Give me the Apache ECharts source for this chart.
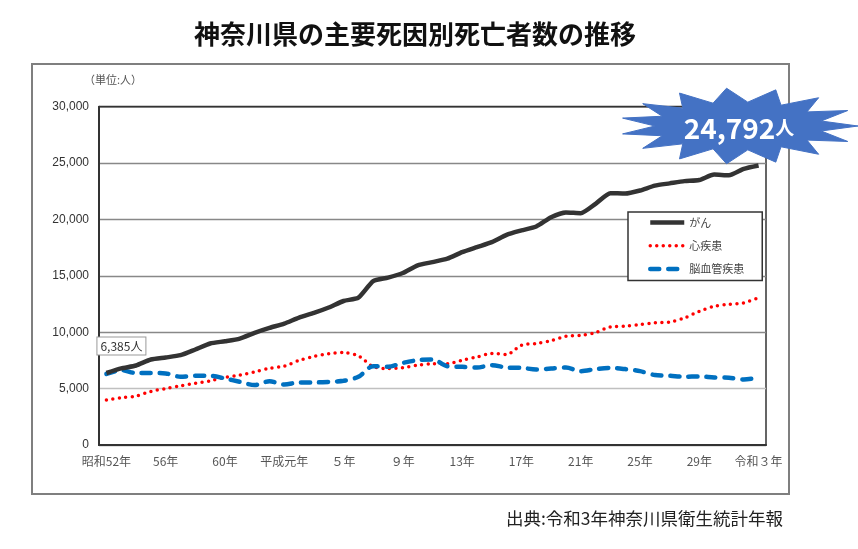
<!DOCTYPE html>
<html>
<head>
<meta charset="utf-8">
<script src="https://cdn.jsdelivr.net/npm/echarts@6/dist/echarts.min.js"></script>
<style>
  html, body { margin: 0; padding: 0; background: #fff; }
  #chart { width: 858px; height: 549px; }
</style>
</head>
<body>
<div id="chart"></div>
<script>
// 年（昭和52年〜令和3年）
const years = [
  '昭和52年', '53年', '54年', '55年', '56年', '57年', '58年', '59年', '60年', '61年', '62年', '63年',
  '平成元年', '２年', '３年', '４年', '５年', '６年', '７年', '８年', '９年', '10年',
  '11年', '12年', '13年', '14年', '15年', '16年', '17年', '18年', '19年', '20年',
  '21年', '22年', '23年', '24年', '25年', '26年', '27年', '28年', '29年', '30年',
  '令和元年', '令和２年', '令和３年'
];

// がん
const ganData = [
  6385, 6790, 7050, 7580, 7760, 7965, 8470, 9000, 9200, 9440,
  9940, 10380, 10770, 11300, 11710, 12190, 12770, 13070, 14540, 14840,
  15250, 15930, 16220, 16520, 17100, 17550, 17990, 18640, 19030, 19380,
  20200, 20620, 20560, 21390, 22330, 22300, 22570, 23000, 23200, 23400,
  23500, 23980, 23920, 24490, 24792
];

// 心疾患
const shinData = [
  3980, 4190, 4340, 4750, 5000, 5250, 5480, 5690, 6000, 6200,
  6490, 6800, 7000, 7500, 7850, 8100, 8200, 7900, 6950, 6780,
  6850, 7080, 7200, 7200, 7520, 7810, 8120, 8030, 8850, 9000,
  9250, 9650, 9720, 9970, 10470, 10530, 10680, 10830, 10910, 11270,
  11860, 12300, 12480, 12600, 13070
];

// 脳血管疾患
const noData = [
  6300, 6640, 6380, 6380, 6350, 6050, 6140, 6140, 5900, 5600,
  5310, 5660, 5370, 5550, 5550, 5600, 5690, 6050, 6990, 6930,
  7280, 7520, 7580, 6990, 6930, 6870, 7080, 6870, 6840, 6700,
  6780, 6870, 6550, 6730, 6840, 6730, 6550, 6200, 6140, 6050,
  6080, 5990, 5960, 5810, 5960
];

const JP = '"Noto Sans CJK JP", "Noto Sans", sans-serif';

// 吹き出し（ギザギザ）の頂点
function starPoints(cx, cy, n, rx1, ry1, rx2, ry2) {
  let pts = [];
  for (let i = 0; i < n * 2; i++) {
    let a = Math.PI * i / n;
    let rx = i % 2 === 0 ? rx1 : rx2;
    let ry = i % 2 === 0 ? ry1 : ry2;
    pts.push([cx + rx * Math.cos(a), cy + ry * Math.sin(a)]);
  }
  return pts;
}

let chart = echarts.init(document.getElementById('chart'));

let option = {
  backgroundColor: '#fff',
  animation: false,
  title: {
    text: '神奈川県の主要死因別死亡者数の推移',
    left: 189,
    top: 16,
    textStyle: { fontFamily: JP, fontSize: 26, fontWeight: 'bold', color: '#111' }
  },
  legend: {
    orient: 'vertical',
    left: 628,
    top: 212,
    padding: [5, 18, 6, 20],
    itemWidth: 34,
    itemHeight: 14,
    itemGap: 12,
    backgroundColor: '#fff',
    borderColor: '#333',
    borderWidth: 1.5,
    borderRadius: 0,
    itemStyle: { opacity: 0 },
    textStyle: { fontFamily: JP, fontSize: 11, color: '#444' },
    data: [
      { name: 'がん', lineStyle: { width: 4.5, color: '#333' } },
      { name: '心疾患', lineStyle: { width: 3.5, color: '#ff0000', type: [0, 6.5], cap: 'round' } },
      { name: '脳血管疾患', lineStyle: { width: 4.5, color: '#0070c0', type: [9, 9], cap: 'round' } }
    ]
  },
  grid: {
    left: 99,
    right: 92,
    top: 106.7,
    bottom: 104,
    show: true,
    borderColor: '#333',
    borderWidth: 1.5
  },
  xAxis: {
    type: 'category',
    boundaryGap: true,
    data: years,
    axisLine: { lineStyle: { color: '#333', width: 2 } },
    axisTick: { interval: 0, length: 5, lineStyle: { color: '#333' } },
    axisLabel: {
      interval: 3,
      margin: 10,
      fontFamily: JP,
      fontSize: 12,
      color: '#555'
    }
  },
  yAxis: {
    type: 'value',
    min: 0,
    max: 30000,
    interval: 5000,
    axisLine: { show: true, lineStyle: { color: '#333', width: 2 } },
    axisTick: { show: false },
    axisLabel: {
      margin: 10,
      fontFamily: 'Liberation Sans, Arial, sans-serif',
      fontSize: 12,
      color: '#333',
      formatter: v => v.toLocaleString('en-US')
    },
    splitLine: {
      lineStyle: {
        color: ['#888', '#c0c0c0', '#888', '#888', '#888', '#888', '#333'],
        width: 1.3
      }
    }
  },
  series: [
    {
      name: 'がん',
      type: 'line',
      data: ganData,
      symbol: 'none',
      smooth: 0.2,
      z: 5,
      itemStyle: { color: '#333' },
      lineStyle: { color: '#333', width: 4.5 },
      markPoint: {
        symbol: 'circle',
        symbolSize: 1,
        itemStyle: { color: 'rgba(0,0,0,0)' },
        label: {
          show: true,
          position: 'inside',
          offset: [15, -27],
          formatter: p => p.value.toLocaleString('en-US') + '人',
          fontFamily: JP,
          fontSize: 12,
          color: '#333',
          backgroundColor: '#fff',
          borderColor: '#999',
          borderWidth: 1,
          padding: [3, 3, 2, 3]
        },
        data: [{ coord: [years[0], ganData[0]], value: ganData[0] }]
      }
    },
    {
      name: '心疾患',
      type: 'line',
      data: shinData,
      symbol: 'none',
      smooth: 0.3,
      z: 3,
      itemStyle: { color: '#ff0000' },
      lineStyle: { color: '#ff0000', width: 3.5, type: [0, 6.5], cap: 'round' }
    },
    {
      name: '脳血管疾患',
      type: 'line',
      data: noData,
      symbol: 'none',
      smooth: 0.3,
      z: 4,
      itemStyle: { color: '#0070c0' },
      lineStyle: { color: '#0070c0', width: 4.5, type: [9, 9], cap: 'round' }
    }
  ],
  graphic: [
    {
      // 外枠
      type: 'rect',
      z: -1,
      shape: { x: 32, y: 64, width: 757, height: 430 },
      style: { fill: 'none', stroke: '#7f7f7f', lineWidth: 2 }
    },
    {
      type: 'text',
      left: 84,
      top: 74,
      style: { text: '（単位:人）', fontFamily: JP, fontSize: 11, fill: '#555' }
    },
    {
      type: 'polygon',
      z: 100,
      shape: { points: starPoints(739, 126, 15, 119, 38, 84, 24) },
      style: { fill: '#4472c4', stroke: '#4472c4', lineWidth: 1 }
    },
    {
      type: 'text',
      z: 101,
      x: 739,
      y: 128,
      style: {
        text: '{a|' + ganData[ganData.length - 1].toLocaleString('en-US') + '}{b|人}',
        align: 'center',
        verticalAlign: 'middle',
        rich: {
          a: { fontFamily: JP, fontSize: 28, fontWeight: 'bold', fill: '#fff' },
          b: { fontFamily: JP, fontSize: 19, fontWeight: 'bold', fill: '#fff' }
        }
      }
    },
    {
      type: 'text',
      right: 75,
      top: 510,
      style: {
        text: '出典:令和3年神奈川県衛生統計年報',
        fontFamily: JP,
        fontSize: 17.5,
        fill: '#222'
      }
    }
  ]
};

chart.setOption(option);

window.onresize = function () {
  chart.resize();
};
</script>
</body>
</html>
